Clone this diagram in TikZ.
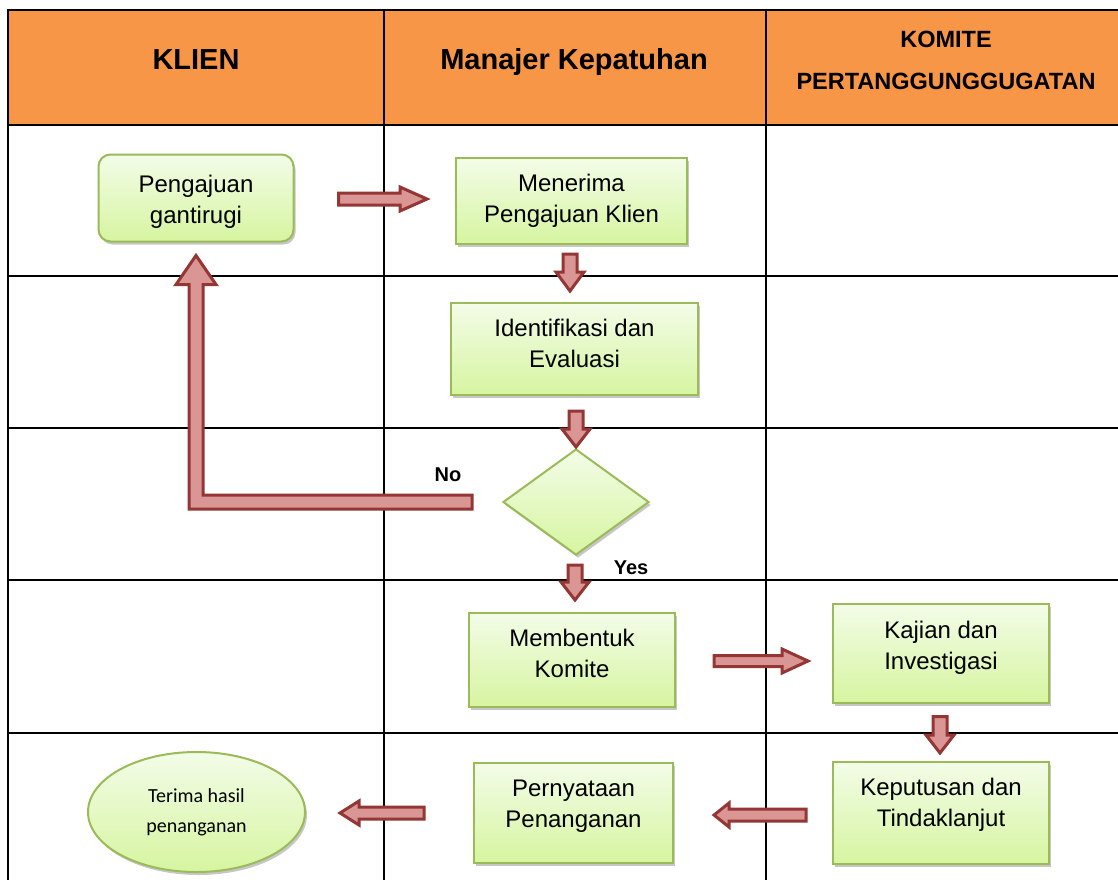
\documentclass[tikz,border=0pt]{standalone}
\usepackage{fontspec}
\setmainfont{Liberation Sans}
\newfontfamily\calfont{Carlito}
\usetikzlibrary{calc,shapes.geometric,shadows}
\definecolor{hdr}{HTML}{F79646}
\definecolor{gbord}{HTML}{9BBB59}
\definecolor{gtop}{HTML}{F3FCE8}
\definecolor{gbot}{HTML}{D6F5A0}
\definecolor{afill}{HTML}{D99694}
\definecolor{aline}{HTML}{943634}
\newcommand\lowstrut[1][14pt]{\rule[-#1]{0pt}{#1}}
\newcommand\topstrut[1][25pt]{\rule{0pt}{#1}}
\newcommand\blockarr[5]{%
  \coordinate (bA) at ($(#2)!#5!(#1)$);
  \draw[barrow] ($(#1)!#3!90:(#2)$) -- ($(bA)!#3!-90:(#1)$) -- ($(bA)!#4!-90:(#1)$) -- (#2)
    -- ($(bA)!#4!90:(#1)$) -- ($(bA)!#3!90:(#1)$) -- ($(#1)!#3!-90:(#2)$) -- cycle;}
\tikzset{
  tline/.style={line width=2.5pt, black},
  hfont/.style={font=\fontsize{29}{34}\selectfont\bfseries, inner sep=0pt, anchor=base},
  flowbox/.style={draw=gbord, line width=2pt, top color=gtop, bottom color=gbot,
     drop shadow={shadow xshift=2pt, shadow yshift=-3pt, fill=black!40, opacity=0.55},
     align=center, font=\fontsize{24}{31}\selectfont, inner sep=0pt},
  barrow/.style={draw=aline, fill=afill, line width=3pt, line join=miter},
  yn/.style={font=\fontsize{20}{24}\selectfont\bfseries, inner sep=0pt, anchor=base}
}
\begin{document}
\begin{tikzpicture}[x=1pt,y=-1pt]
\useasboundingbox (0,0) rectangle (1118,879);
\clip (0,0) rectangle (1118,879);
\fill[white] (0,0) rectangle (1118,879);
% table
\fill[hdr] (8,10) rectangle (1118,125);
\draw[tline] (1120,10) -- (8,10) -- (8,900);
\draw[tline] (384,10) -- (384,900);
\draw[tline] (766,10) -- (766,900);
\foreach \yy in {125,276,428,580,733} \draw[tline] (8,\yy) -- (1120,\yy);
% headers
\node[hfont] (h1) at (196,69) {KLIEN};
\node[hfont] (h2) at (574,69) {Manajer Kepatuhan};
\node[font=\fontsize{23.5}{42}\selectfont\bfseries, align=center, inner sep=0pt, anchor=north] (h3) at (946,31) {KOMITE\\PERTANGGUNGGUGATAN};
% nodes
\node[flowbox, rounded corners=12pt, minimum width=195pt, minimum height=87pt] (pg) at (196,198) {\topstrut Pengajuan\\gantirugi};
\node[flowbox, minimum width=231pt, minimum height=86pt] (mk) at (571.5,201) {Menerima\\Pengajuan Klien};
\node[flowbox, minimum width=247pt, minimum height=92pt] (ie) at (574.5,349) {Identifikasi dan\\Evaluasi\lowstrut[12pt]};
\node[flowbox, diamond, minimum width=146pt, minimum height=106pt] (dm) at (576,502) {};
\node[flowbox, minimum width=206pt, minimum height=94pt] (mb) at (572,660) {Membentuk\\Komite\lowstrut};
\node[flowbox, minimum width=216pt, minimum height=99pt] (kj) at (941,653.5) {Kajian dan\\Investigasi\lowstrut[16pt]};
\node[flowbox, minimum width=216pt, minimum height=102pt] (kp) at (941,813) {Keputusan dan\\Tindaklanjut\lowstrut[22pt]};
\node[flowbox, minimum width=199pt, minimum height=100pt] (pn) at (573.5,813) {Pernyataan\\Penanganan\lowstrut[18pt]};
\node[flowbox, ellipse, minimum width=217pt, minimum height=120pt, font=\calfont\fontsize{20}{30}\selectfont] (te) at (196.5,812) {Terima hasil\\penanganan};
% labels
\node[yn] (no) at ($(dm.west)+(-54,-21)$) {No};
\node[yn] (yes) at ($(dm.south)+(55,18)$) {Yes};
% arrow end points
\coordinate (a1s) at ($(pg.east)+(44,1)$);
\coordinate (a1e) at ($(mk.west)+(-28,-2)$);
\coordinate (a2s) at ($(mk.south)+(-1.5,9)$);
\coordinate (a2e) at ($(ie.north)+(-4.5,-11)$);
\coordinate (a3s) at ($(ie.south)+(1.5,15)$);
\coordinate (a3e) at ($(dm.north)+(0,-1)$);
\coordinate (a4s) at ($(dm.south)+(-1,9)$);
\coordinate (a4e) at ($(mb.north)+(3,-12)$);
\coordinate (a5s) at ($(mb.east)+(38,1)$);
\coordinate (a5e) at ($(kj.west)+(-24,7.5)$);
\coordinate (a6s) at ($(kj.south)+(-1,12.5)$);
\coordinate (a6e) at ($(kp.north)+(-1,-8)$);
\coordinate (a7s) at ($(kp.west)+(-26,2)$);
\coordinate (a7e) at ($(pn.east)+(40,2)$);
\coordinate (a8s) at ($(pn.west)+(-49,0)$);
\coordinate (a8e) at ($(te.east)+(34,1)$);
\coordinate (noS) at ($(dm.west)+(-30,0)$);
\coordinate (noT) at ($(pg.south)+(0,13)$);
\coordinate (noC) at (noS -| noT);
% block arrows
\blockarr{a1s}{a1e}{6pt}{12pt}{27pt}
\blockarr{a2s}{a2e}{7pt}{14pt}{19pt}
\blockarr{a3s}{a3e}{7pt}{14pt}{18pt}
\blockarr{a4s}{a4e}{7pt}{14pt}{18pt}
\blockarr{a5s}{a5e}{5.5pt}{12pt}{26pt}
\blockarr{a6s}{a6e}{7pt}{14pt}{18pt}
\blockarr{a7s}{a7e}{6pt}{12pt}{15pt}
\blockarr{a8s}{a8e}{6pt}{12pt}{19pt}
\draw[barrow] ($(noS)+(0,-7)$) -- ($(noC)+(7,-7)$) -- ($(noT)+(7,29)$) -- ($(noT)+(20,29)$) -- (noT)
  -- ($(noT)+(-20,29)$) -- ($(noT)+(-7,29)$) -- ($(noC)+(-7,7)$) -- ($(noS)+(0,7)$) -- cycle;
\end{tikzpicture}
\end{document}
